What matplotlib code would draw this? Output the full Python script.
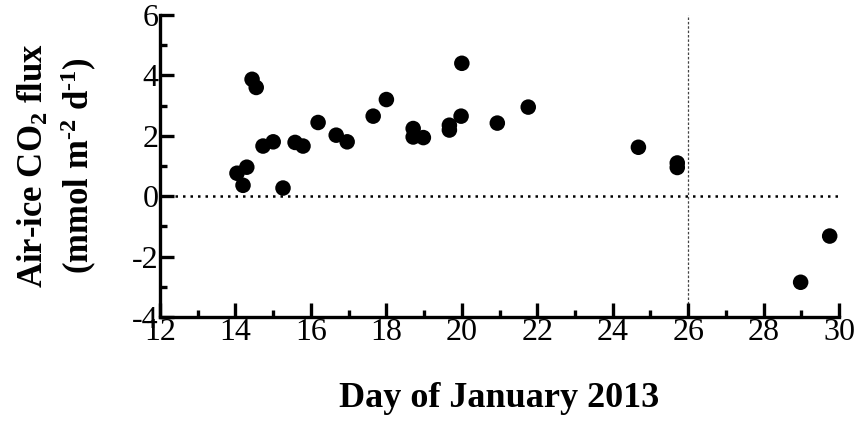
import matplotlib
matplotlib.use('Agg')

import matplotlib.pyplot as plt
from matplotlib.ticker import MultipleLocator

# =========================
# DATA
# =========================

day = [
    14.04, 14.20, 14.30, 14.44, 14.55, 14.73, 15.00, 15.26,
    15.58, 15.79, 16.19, 16.67, 16.96, 17.65, 18.00, 18.71,
    18.71, 18.98, 19.67, 19.67, 20.00, 19.98, 20.94, 21.76,
    24.68, 25.71, 25.71, 28.98, 29.75
]

flux = [
    0.76, 0.36, 0.96, 3.87, 3.60, 1.66, 1.80, 0.27,
    1.78, 1.66, 2.44, 2.02, 1.80, 2.65, 3.20, 2.24,
    1.96, 1.94, 2.35, 2.19, 4.40, 2.65, 2.42, 2.95,
    1.62, 1.10, 0.95, -2.85, -1.32
]

melt_day = 26

# =========================
# STYLE
# =========================

plt.rcParams['font.family'] = ['Liberation Serif', 'DejaVu Serif']
plt.rcParams['mathtext.fontset'] = 'custom'
plt.rcParams['mathtext.rm'] = 'Liberation Serif'
plt.rcParams['mathtext.bf'] = 'Liberation Serif:bold'
plt.rcParams['mathtext.default'] = 'bf'
plt.rcParams['axes.unicode_minus'] = False

# =========================
# PLOT
# =========================

fig = plt.figure(
    figsize=(8.58, 4.23),
    dpi=100
)

ax = fig.add_axes([0.1865, 0.2506, 0.7915, 0.714])

ax.axhline(
    0,
    color='black',
    linestyle=(0, (1, 2)),
    linewidth=1.8,
    zorder=1
)

ax.axvline(
    melt_day,
    color='#444444',
    linestyle=(0, (2, 1.5)),
    linewidth=0.9,
    zorder=1
)

ax.scatter(
    day,
    flux,
    s=125,
    color='black',
    edgecolors='none',
    zorder=3
)

ax.set_xlim(12, 30)
ax.set_ylim(-4, 6)

ax.xaxis.set_major_locator(MultipleLocator(2))
ax.xaxis.set_minor_locator(MultipleLocator(1))
ax.yaxis.set_major_locator(MultipleLocator(2))
ax.yaxis.set_minor_locator(MultipleLocator(1))

for side in ['top', 'right']:
    ax.spines[side].set_visible(False)

for side in ['left', 'bottom']:
    ax.spines[side].set_linewidth(2.4)

ax.tick_params(
    which='major',
    direction='in',
    length=10,
    width=2.4,
    labelsize=23,
    pad=1
)

ax.tick_params(
    which='minor',
    direction='in',
    length=5,
    width=2.4
)

ax.set_xlabel(
    'Day of January 2013',
    fontsize=26,
    fontweight='bold'
)
ax.xaxis.set_label_coords(0.5, -0.215)

ax.set_ylabel(
    'Air-ice CO$_2$ flux\n(mmol m$^{\\text{-}2}$ d$^{\\text{-}1}$)',
    fontsize=25,
    fontweight='bold',
    linespacing=1.25
)
ax.yaxis.set_label_coords(-0.09, 0.5)

fig.savefig('out.png', dpi=100)
